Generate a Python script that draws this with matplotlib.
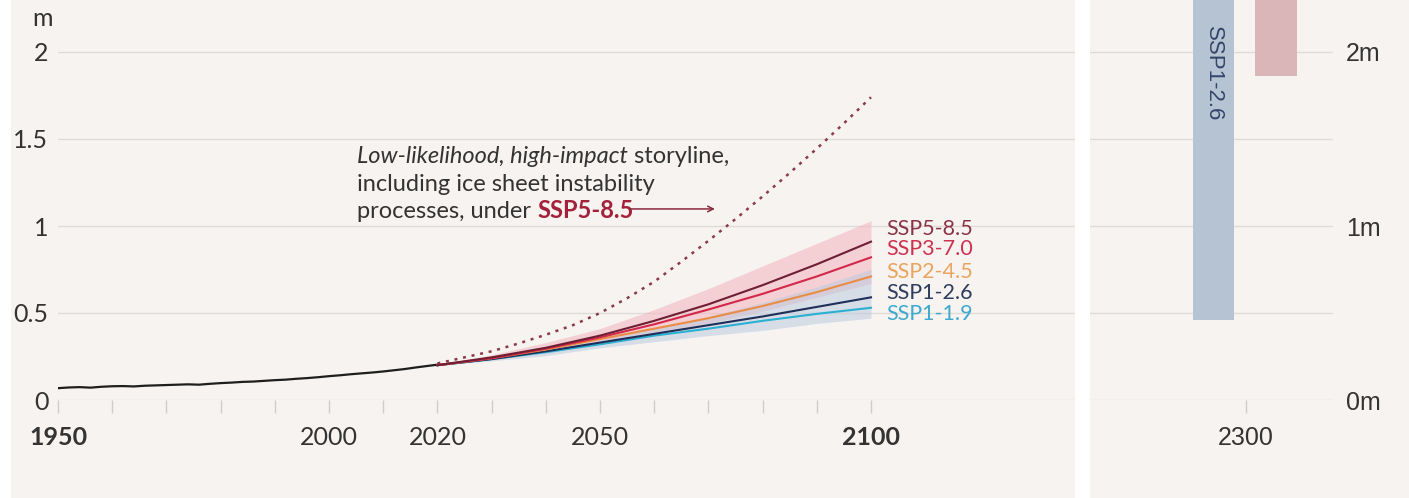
import matplotlib.pyplot as plt
from matplotlib.patches import Rectangle

plt.rcParams['font.family'] = ['Lato', 'DejaVu Sans']

# observed global mean sea level (m, relative to 1900)
hist_years = list(range(1950, 2021, 2))
hist_level = [0.068, 0.072, 0.074, 0.071, 0.076, 0.079, 0.080, 0.078, 0.082, 0.084,
              0.086, 0.088, 0.090, 0.088, 0.093, 0.097, 0.100, 0.104, 0.106, 0.110,
              0.114, 0.117, 0.122, 0.126, 0.131, 0.137, 0.142, 0.148, 0.153, 0.158,
              0.164, 0.171, 0.178, 0.187, 0.195, 0.203]

# projections to 2100
proj_years = [2020, 2030, 2040, 2050, 2060, 2070, 2080, 2090, 2100]
ssp585 = [0.20, 0.245, 0.30, 0.37, 0.455, 0.55, 0.66, 0.78, 0.91]
ssp370 = [0.20, 0.240, 0.295, 0.36, 0.435, 0.52, 0.61, 0.71, 0.82]
ssp245 = [0.20, 0.240, 0.290, 0.35, 0.410, 0.47, 0.54, 0.62, 0.71]
ssp126 = [0.20, 0.235, 0.280, 0.33, 0.380, 0.43, 0.48, 0.535, 0.59]
ssp119 = [0.20, 0.235, 0.275, 0.32, 0.370, 0.41, 0.455, 0.495, 0.53]

ssp585_low = [0.20, 0.23, 0.27, 0.32, 0.38, 0.44, 0.51, 0.59, 0.67]
ssp585_high = [0.20, 0.26, 0.33, 0.41, 0.52, 0.64, 0.77, 0.90, 1.03]
ssp126_low = [0.20, 0.225, 0.255, 0.30, 0.335, 0.37, 0.40, 0.44, 0.47]
ssp126_high = [0.20, 0.245, 0.29, 0.345, 0.41, 0.48, 0.56, 0.65, 0.75]

# low-likelihood, high-impact storyline
story_years = [2020, 2025, 2030, 2035, 2040, 2045, 2050, 2055, 2060, 2065,
               2070, 2075, 2080, 2085, 2090, 2095, 2100]
story_level = [0.21, 0.245, 0.28, 0.325, 0.375, 0.43, 0.50, 0.585, 0.68, 0.795,
               0.915, 1.04, 1.17, 1.305, 1.445, 1.59, 1.74]

# 2300 likely ranges
bar_names = ['SSP1-2.6', 'SSP5-8.5']
bar_low = [0.46, 1.86]
bar_high = [3.26, 6.96]

ssp_names = ['SSP5-8.5', 'SSP3-7.0', 'SSP2-4.5', 'SSP1-2.6', 'SSP1-1.9']
ssp_series = [ssp585, ssp370, ssp245, ssp126, ssp119]
line_colors = ['#6e1f33', '#d3284a', '#e98d45', '#1f2f58', '#2bb0d2']
label_colors = ['#8a3347', '#cf3150', '#e9a45e', '#2f3d5e', '#3fa9cf']

x_ticks = list(range(1950, 2101, 10))
x_labels = ['1950', '', '', '', '', '2000', '', '2020', '', '', '2050', '', '', '', '', '2100']

W, H = 1409, 498
bg = '#f6f3f0'
grid_c = '#dfdbd7'
txt = '#333333'

fig = plt.figure(figsize=(W / 100, H / 100), dpi=100)
fig.patches.append(Rectangle((11 / W, 0), (1075 - 11) / W, 1, transform=fig.transFigure,
                             facecolor=bg, edgecolor='none', zorder=-10))
fig.patches.append(Rectangle((1090 / W, 0), (W - 1090) / W, 1, transform=fig.transFigure,
                             facecolor=bg, edgecolor='none', zorder=-10))

ymax = 400 / 174

# ---- left panel ----
ax = fig.add_axes([58 / W, 98 / H, (1075 - 58) / W, 400 / H])
ax.set_zorder(1)
ax.set_facecolor('none')
ax.set_xlim(1950, 1950 + (1075 - 58) / 5.42)
ax.set_ylim(0, ymax)
for s in ax.spines.values():
    s.set_visible(False)
for v in [0, 0.5, 1, 1.5, 2]:
    ax.axhline(v, color=grid_c, lw=1, zorder=0)

ax.set_yticks([0, 0.5, 1, 1.5, 2], ['0', '0.5', '1', '1.5', '2'])
ax.tick_params(axis='y', length=0, pad=7, labelsize=18, labelcolor=txt)
ax.set_xticks(x_ticks, x_labels)
ax.tick_params(axis='x', length=9, width=1, color='#d2cdc8', pad=9.5, labelsize=18,
               labelcolor=txt)
for lab in ax.get_xticklabels():
    if lab.get_text() in ('1950', '2100'):
        lab.set_fontweight('bold')

ax.fill_between(proj_years, ssp585_low, ssp585_high, color='#f3b8c2', alpha=0.6, lw=0, zorder=1)
ax.fill_between(proj_years, ssp126_low, ssp126_high, color='#bccbe0', alpha=0.55, lw=0, zorder=1)

ax.plot(hist_years, hist_level, color='#1e1e1e', lw=1.6, zorder=3)
for series, c in zip(ssp_series[::-1], line_colors[::-1]):
    ax.plot(proj_years, series, color=c, lw=1.5, zorder=3)
ax.plot(story_years, story_level, color='#8b3a4a', lw=1.8, ls=(0, (1.2, 2.3)), zorder=3)

label_y = [0.985, 0.868, 0.738, 0.615, 0.494]
for name, y, c in zip(ssp_names, label_y, label_colors):
    ax.text(2102.8, y, name, color=c, fontsize=15.5, va='center', ha='left')

fs = 17
t1 = ax.text(2005.2, 1.397, 'Low-likelihood, high-impact', style='italic', fontsize=fs,
             va='center', ha='left', color=txt)
ax.annotate(' storyline,', xy=(1, 0), xycoords=t1, va='bottom', ha='left', fontsize=fs, color=txt)
ax.text(2005.2, 1.241, 'including ice sheet instability', fontsize=fs, va='center', ha='left',
        color=txt)
t4 = ax.text(2005.2, 1.086, 'processes, under ', fontsize=fs, va='center', ha='left', color=txt)
t5 = ax.annotate('SSP5-8.5', xy=(1, 0), xycoords=t4, va='bottom', ha='left', fontsize=fs,
                 fontweight='bold', color='#a3213b')

fig.canvas.draw()
bb = t5.get_window_extent()
arrow_x0 = ax.transData.inverted().transform((bb.x1 - 4, bb.y0))[0]
ax.annotate('', xy=(2071.2, 1.098), xytext=(arrow_x0, 1.098),
            arrowprops=dict(arrowstyle='->', color='#8b2a3c', lw=1.1, shrinkA=0, shrinkB=0))

fig.text(42 / W, 1 - 18 / H, 'm', ha='center', va='center', fontsize=18, color=txt)

# ---- right panel (2300) ----
ax2 = fig.add_axes([1090 / W, 98 / H, 243 / W, 400 / H])
ax2.set_zorder(1)
ax2.set_facecolor('none')
ax2.set_xlim(2200, 2355.8)
ax2.set_ylim(0, ymax)
for s in ax2.spines.values():
    s.set_visible(False)
for v in [0, 0.5, 1, 1.5, 2]:
    ax2.axhline(v, color=grid_c, lw=1, zorder=0)

bar_offsets = [-20.8, 19.3]
bar_colors = ['#b6c3d2', '#dbb6b9']
for off, lo, hi, c in zip(bar_offsets, bar_low, bar_high, bar_colors):
    ax2.bar(2300 + off, hi - lo, bottom=lo, width=26.5, color=c, zorder=2)
ax2.text(2300 + bar_offsets[0], 2.15, bar_names[0], rotation=270, ha='center', va='top',
         fontsize=16, color='#33456a', family=['Liberation Sans', 'DejaVu Sans'], zorder=3)

ax2.set_xticks([2300], ['2300'])
ax2.tick_params(axis='x', length=9, width=1, color='#d2cdc8', pad=9.5, labelsize=18,
                labelcolor=txt)
ax2.yaxis.tick_right()
ax2.set_yticks([0, 1, 2], ['0m', '1m', '2m'])
ax2.tick_params(axis='y', length=0, pad=9.5, labelsize=18, labelcolor=txt)
for lab in ax2.get_xticklabels() + ax2.get_yticklabels():
    lab.set_family(['Liberation Sans', 'DejaVu Sans'])

fig.savefig('out.png', dpi=100)
